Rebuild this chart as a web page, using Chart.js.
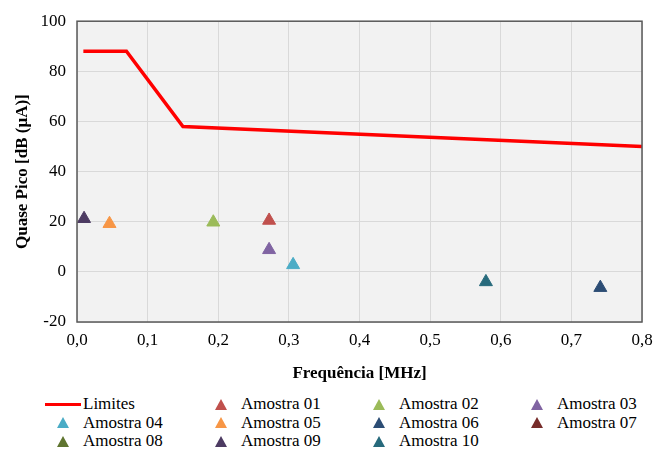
<!DOCTYPE html>
<html>
<head>
<meta charset="utf-8">
<script src="https://cdn.jsdelivr.net/npm/chart.js@4"></script>
<style>
    body { margin: 0; background: #fff; width: 666px; height: 450px; overflow: hidden; }
    #wrap { position: absolute; left: 0; top: 0; width: 666px; height: 384px; }
    #legenda {
        position: absolute; left: 43px; top: 395px;
        display: grid; grid-template-columns: repeat(4, 158px);
        font-family: "Liberation Serif", "Times New Roman", serif; font-size: 17px; color: #000;
    }
    .item { display: flex; align-items: center; height: 18.5px; white-space: nowrap; }
    .marca { width: 40px; height: 18px; display: flex; align-items: center; justify-content: center; }
    .linha { width: 36px; height: 3px; margin-left: 2px; margin-right: 2px; }
</style>
</head>
<body>
<div id="wrap"><canvas id="grafico" width="666" height="384"></canvas></div>
<div id="legenda"></div>
<script>
// Curva de limites
const limiteFreq = [0.009, 0.07, 0.15, 0.8];
const limiteValor = [88, 88, 58, 50];

// Amostras medidas (quase pico)
const amostras = ['Amostra 01', 'Amostra 02', 'Amostra 03', 'Amostra 04', 'Amostra 05',
                  'Amostra 06', 'Amostra 07', 'Amostra 08', 'Amostra 09', 'Amostra 10'];
const amostraFreq = [0.272, 0.193, 0.272, 0.306, 0.046, 0.741, null, null, 0.010, 0.579];
const amostraPico = [20.5, 19.8, 8.8, 2.8, 19.2, -6.3, null, null, 21.2, -4.0];
const coresAmostras = ['#C0504D', '#9BBB59', '#8064A2', '#4BACC6', '#F79646',
                       '#2C4D75', '#772C2A', '#5F7530', '#4D3B62', '#276A7C'];

// Ticks
const yTicks = [-20, 0, 20, 40, 60, 80, 100];
const xTicks = [0, 0.1, 0.2, 0.3, 0.4, 0.5, 0.6, 0.7, 0.8];

document.addEventListener('DOMContentLoaded', () => {
    const fonte = { family: '"Liberation Serif", "Times New Roman", serif', size: 17 };

    const datasets = [{
        label: 'Limites',
        type: 'line',
        data: limiteFreq.map((f, i) => ({ x: f, y: limiteValor[i] })),
        borderColor: '#FF0000',
        borderWidth: 3.5,
        pointRadius: 0,
        fill: false,
        order: 1
    }];
    amostras.forEach((nome, i) => {
        datasets.push({
            label: nome,
            type: 'scatter',
            data: amostraFreq[i] === null ? [] : [{ x: amostraFreq[i], y: amostraPico[i] }],
            backgroundColor: coresAmostras[i],
            borderColor: coresAmostras[i],
            pointStyle: 'triangle',
            pointRadius: 7.5,
            order: 0
        });
    });

    // Fundo cinza e moldura da área do gráfico
    const moldura = {
        id: 'moldura',
        beforeDraw(chart) {
            const { ctx, chartArea: a } = chart;
            ctx.save();
            ctx.fillStyle = '#F2F2F2';
            ctx.fillRect(a.left, a.top, a.right - a.left, a.bottom - a.top);
            ctx.restore();
        },
        afterDatasetsDraw(chart) {
            const { ctx, chartArea: a } = chart;
            ctx.save();
            ctx.strokeStyle = '#595959';
            ctx.lineWidth = 1.5;
            ctx.strokeRect(a.left, a.top, a.right - a.left, a.bottom - a.top);
            ctx.restore();
        }
    };

    const chart = new Chart(document.getElementById('grafico').getContext('2d'), {
        type: 'scatter',
        data: { datasets },
        options: {
            responsive: false,
            animation: false,
            layout: { padding: { top: 16, right: 24, left: 0, bottom: 0 } },
            plugins: { legend: { display: false }, tooltip: { enabled: false } },
            scales: {
                x: {
                    type: 'linear', min: 0, max: 0.8,
                    afterBuildTicks: (s) => { s.ticks = xTicks.map(v => ({ value: v })); },
                    afterFit: (s) => { s.height = 62; },
                    ticks: { font: fonte, color: '#000', padding: 8,
                             callback: (v) => v.toFixed(1).replace('.', ',') },
                    grid: { color: '#D9D9D9', drawTicks: false },
                    border: { display: false },
                    title: { display: true, text: 'Frequência [MHz]', color: '#000',
                             font: { ...fonte, weight: 'bold' }, padding: { top: 4, bottom: 0 } }
                },
                y: {
                    min: -20, max: 100,
                    afterBuildTicks: (s) => { s.ticks = yTicks.map(v => ({ value: v })); },
                    afterFit: (s) => { s.width = 77; },
                    ticks: { font: fonte, color: '#000', padding: 11 },
                    grid: { color: '#D9D9D9', drawTicks: false },
                    border: { display: false },
                    title: { display: true, text: 'Quase Pico [dB (µA)]', color: '#000',
                             font: { ...fonte, weight: 'bold' }, padding: { top: 12, bottom: 0 } }
                }
            }
        },
        plugins: [moldura]
    });

    // Legenda em grade de 4 colunas
    const legenda = document.getElementById('legenda');
    chart.data.datasets.forEach((ds) => {
        const item = document.createElement('div');
        item.className = 'item';
        const marca = document.createElement('div');
        marca.className = 'marca';
        if (ds.type === 'line') {
            marca.innerHTML = '<div class="linha" style="background:' + ds.borderColor + '"></div>';
        } else {
            marca.innerHTML = '<svg width="12" height="11"><polygon points="6,0 12,11 0,11" fill="' +
                ds.backgroundColor + '"/></svg>';
        }
        const texto = document.createElement('span');
        texto.textContent = ds.label;
        item.appendChild(marca);
        item.appendChild(texto);
        legenda.appendChild(item);
    });
});
</script>
</body>
</html>
